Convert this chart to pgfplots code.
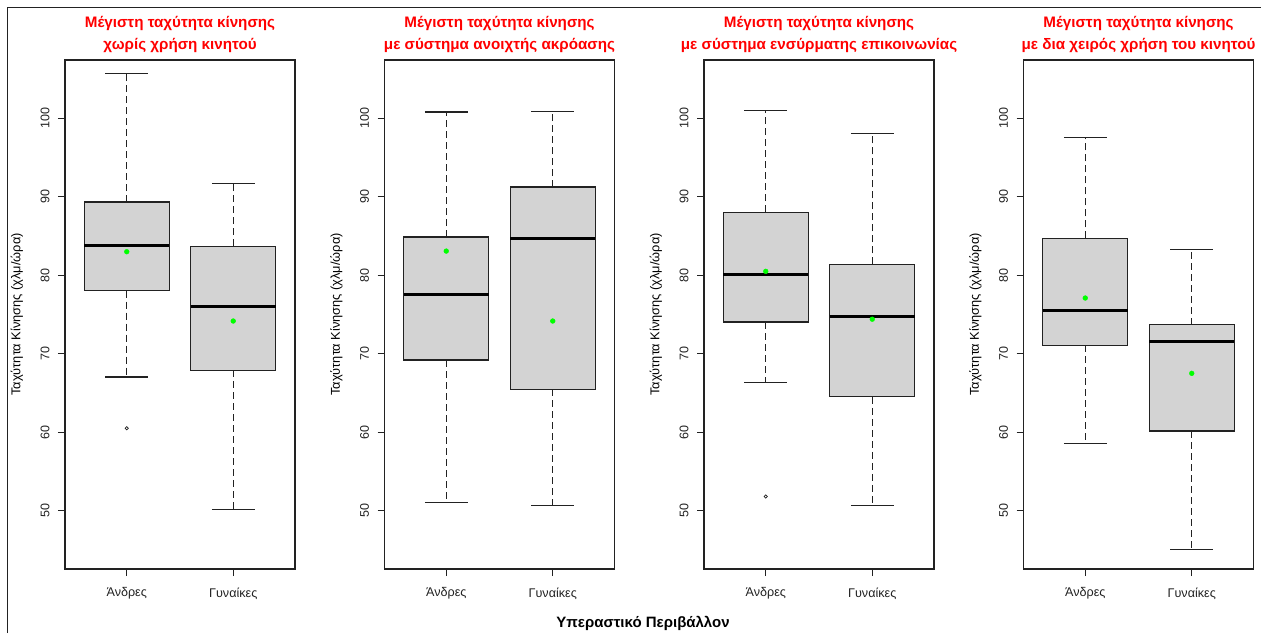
\documentclass[border=0pt]{standalone}
\usepackage{pgfplots}
\pgfplotsset{compat=1.18}
\usepackage{fontspec}
\setmainfont{Liberation Sans}
\definecolor{rgray}{HTML}{D3D3D3}
\definecolor{rgreen}{HTML}{00FF00}
\definecolor{rred}{HTML}{FF0000}
\definecolor{rline}{HTML}{222222}

\pgfplotsset{
  rpanel/.style={
    scale only axis, width=230pt, height=509pt, anchor=south west,
    xmin=0.42, xmax=2.58, ymin=42.57, ymax=107.43,
    xtick={1,2}, xticklabels={Άνδρες, Γυναίκες},
    ytick={50,60,70,80,90,100},
    tick align=outside, xtick pos=bottom, ytick pos=left,
    major tick length=7pt,
    every tick/.style={rline, line width=1pt},
    axis line style={line width=1.1pt, rline},
    /pgf/number format/assume math mode=true,
    yticklabel shift=5pt,
    yticklabel style={rotate=90, anchor=south, font=\fontsize{12.5}{14}\selectfont, text=rline},
    xticklabel style={font=\fontsize{12.6}{14}\selectfont, yshift=-8pt, text=rline},
    ylabel={Ταχύτητα Κίνησης (χλμ/ώρα)},
    ylabel style={at={(axis description cs:-0.209,0.5)}, anchor=center, font=\fontsize{12.8}{14}\selectfont},
    title style={at={(axis description cs:0.5,1)}, anchor=south, yshift=-2pt, align=center, text=rred, font=\bfseries\fontsize{15.2}{22}\selectfont},
  },
}
% pos, lower whisker, lower quartile, median, upper quartile, upper whisker, mean
\newcommand{\rbox}[7]{%
  \pgfmathsetmacro\rbL{#1-0.4}\pgfmathsetmacro\rbR{#1+0.4}%
  \pgfmathsetmacro\rsL{#1-0.2}\pgfmathsetmacro\rsR{#1+0.2}%
  \addplot[rline, line width=1.1pt, dash pattern=on 7pt off 4pt] coordinates {(#1,#3) (#1,#2)};
  \addplot[rline, line width=1.1pt, dash pattern=on 7pt off 4pt] coordinates {(#1,#5) (#1,#6)};
  \addplot[rline, line width=1.1pt] coordinates {(\rsL,#2) (\rsR,#2)};
  \addplot[rline, line width=1.1pt] coordinates {(\rsL,#6) (\rsR,#6)};
  \addplot[fill=rgray, draw=rline, line width=1.1pt] coordinates {(\rbL,#3) (\rbR,#3) (\rbR,#5) (\rbL,#5)} -- cycle;
  \addplot[black, line width=3pt] coordinates {(\rbL,#4) (\rbR,#4)};
  \addplot[only marks, mark=*, mark size=2.4pt, color=rgreen] coordinates {(#1,#7)};
}
\pgfplotsset{rout/.style={only marks, mark=o, mark size=1.6pt, color=rline, mark options={line width=0.7pt}}}

\begin{document}
\begin{tikzpicture}[x=1pt,y=1pt]
\path[use as bounding box] (0pt,0pt) rectangle (1261pt,633pt);
\draw[rline, line width=1pt] (7.5pt,0pt) -- (7.5pt,625.7pt) -- (1261pt,625.7pt);

% Panel 1
\begin{axis}[rpanel, at={(65pt,64pt)},
  title={Μέγιστη ταχύτητα κίνησης\\χωρίς χρήση κινητού}]
\rbox{1}{67.03}{78.03}{83.76}{89.33}{105.67}{83.0}
\rbox{2}{50.13}{67.9}{76.0}{83.72}{91.66}{74.17}
\addplot[rout] coordinates {(1,60.5)};
\end{axis}

% Panel 2
\begin{axis}[rpanel, at={(384.5pt,64pt)},
  title={Μέγιστη ταχύτητα κίνησης\\με σύστημα ανοιχτής ακρόασης}]
\rbox{1}{51.1}{69.2}{77.6}{84.87}{100.8}{83.08}
\rbox{2}{50.7}{65.5}{84.74}{91.24}{100.9}{74.17}
\end{axis}

% Panel 3
\begin{axis}[rpanel, at={(704pt,64pt)},
  title={Μέγιστη ταχύτητα κίνησης\\με σύστημα ενσύρματης επικοινωνίας}]
\rbox{1}{66.36}{74.04}{80.15}{88.05}{101.0}{80.5}
\rbox{2}{50.7}{64.5}{74.8}{81.4}{98.1}{74.4}
\addplot[rout] coordinates {(1,51.8)};
\end{axis}

% Panel 4
\begin{axis}[rpanel, at={(1023.5pt,64pt)},
  title={Μέγιστη ταχύτητα κίνησης\\με δια χειρός χρήση του κινητού}]
\rbox{1}{58.6}{71.1}{75.46}{84.7}{97.5}{77.1}
\rbox{2}{45.0}{60.15}{71.6}{73.7}{83.3}{67.5}
\end{axis}

\node[font=\bfseries\fontsize{15}{17}\selectfont] at (643pt,10pt) {Υπεραστικό Περιβάλλον};
\end{tikzpicture}
\end{document}
